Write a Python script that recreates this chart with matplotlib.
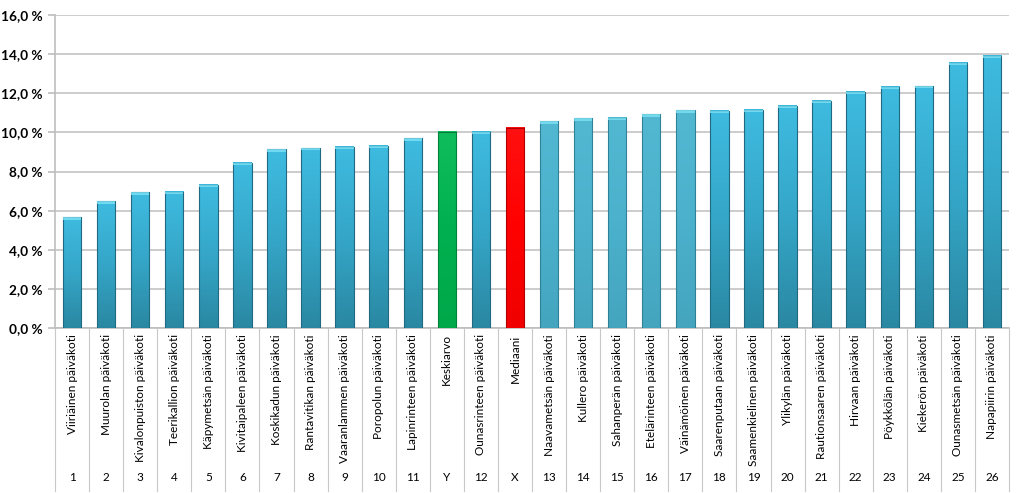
import matplotlib.pyplot as plt
import matplotlib.transforms as mtransforms
from matplotlib.colors import LinearSegmentedColormap
import numpy as np

plt.rcParams["font.family"] = ["Lato", "DejaVu Sans"]

# kindergartens, sorted by value, with average (Y) and median (X)
names = [
    "Viiriäinen päiväkoti", "Muurolan päiväkoti", "Kivalonpuiston päiväkoti",
    "Teerikallion päiväkoti", "Käpymetsän päiväkoti", "Kivitaipaleen päiväkoti",
    "Koskikadun päiväkoti", "Rantavitikan päiväkoti", "Vaaranlammen päiväkoti",
    "Poropolun päiväkoti", "Lapinrinteen päiväkoti", "Keskiarvo",
    "Ounasrinteen päiväkoti", "Mediaani", "Naavametsän päiväkoti",
    "Kullero päiväkoti", "Sahanperän päiväkoti", "Etelärinteen päiväkoti",
    "Väinämöinen päiväkoti", "Saarenputaan päiväkoti", "Saamenkielinen päiväkoti",
    "Ylikylän päiväkoti", "Rautionsaaren päiväkoti", "Hirvaan päiväkoti",
    "Pöykkölän päiväkoti", "Kiekerön päiväkoti", "Ounasmetsän päiväkoti",
    "Napapiirin päiväkoti",
]
codes = ["1", "2", "3", "4", "5", "6", "7", "8", "9", "10", "11", "Y", "12", "X",
         "13", "14", "15", "16", "17", "18", "19", "20", "21", "22", "23", "24",
         "25", "26"]
values = [5.66, 6.48, 6.94, 6.97, 7.33, 8.45, 9.14, 9.20, 9.27, 9.32, 9.70, 10.02,
          10.02, 10.24, 10.57, 10.72, 10.75, 10.92, 11.13, 11.11, 11.15, 11.37,
          11.62, 12.07, 12.32, 12.37, 13.55, 13.92]

fig = plt.figure(figsize=(10.24, 4.93), dpi=100)
ax = fig.add_axes([55 / 1024, 1 - 328 / 493, 954 / 1024, 313 / 493])

blue = LinearSegmentedColormap.from_list("b", ["#2A88A2", "#35A6C8", "#3EBBE0"])
light = LinearSegmentedColormap.from_list("l", ["#45A5BF", "#4BB1CC", "#52B8D2"])
green = LinearSegmentedColormap.from_list("g", ["#00A84A", "#00B050", "#10BD5C"])
red = LinearSegmentedColormap.from_list("r", ["#F00000", "#FF0000", "#FF1010"])

grad = np.linspace(0, 1, 100).reshape(-1, 1)
width = 0.54
for i, (name, v) in enumerate(zip(names, values)):
    if name == "Keskiarvo":
        cmap, edge = green, "#00803A"
    elif name == "Mediaani":
        cmap, edge = red, "#B00000"
    elif 14 <= i <= 18:
        cmap, edge = light, "#2F8198"
    else:
        cmap, edge = blue, "#1F6A80"
    x0, x1 = i - width / 2, i + width / 2
    ax.imshow(grad, extent=[x0, x1, 0, v], origin="lower", aspect="auto",
              cmap=cmap, zorder=2)
    ax.add_patch(plt.Rectangle((x0, 0), width, v, fill=False, edgecolor=edge,
                               linewidth=0.8, zorder=3))
    # light cap at top of bar
    ax.add_patch(plt.Rectangle((x0, v - 0.12), width, 0.12,
                               facecolor="#7FE3F5" if cmap in (blue, light) else "none",
                               edgecolor="none", alpha=0.8, zorder=3))

ax.set_xlim(-0.5, len(names) - 0.5)
ax.set_ylim(0, 16)
ax.set_yticks(np.arange(0, 17, 2))
ax.set_yticklabels([f"{t:.1f} %".replace(".", ",") for t in np.arange(0, 17, 2)],
                   fontsize=9.8, fontweight="bold")
ax.set_xticks([])
ax.grid(axis="y", color="#C4C4C4", linewidth=1.2, zorder=0)
ax.set_axisbelow(True)
for s in ["top", "right", "bottom"]:
    ax.spines[s].set_visible(False)
ax.spines["left"].set_color("#BDBDBD")
ax.spines["left"].set_linewidth(1.2)
ax.tick_params(axis="y", color="#BDBDBD", length=5, width=1.2, pad=4)

# category table below the axis
trans = mtransforms.blended_transform_factory(ax.transData, ax.transAxes)
ax.plot([-0.5, len(names) - 0.5], [0, 0], color="#BDBDBD", lw=1.2,
        transform=trans, clip_on=False, zorder=1)
for b in range(len(names) + 1):
    ax.plot([b - 0.5, b - 0.5], [0, -0.52], color="#C8C8C8", lw=0.8,
            transform=trans, clip_on=False)
for i, (name, code) in enumerate(zip(names, codes)):
    ax.text(i, -0.02, name, rotation=90, ha="center", va="top", fontsize=8.5,
            transform=trans)
    ax.text(i, -0.479, code, ha="center", va="center", fontsize=8.5,
            transform=trans)

fig.savefig("out.png", dpi=100, facecolor="white")
